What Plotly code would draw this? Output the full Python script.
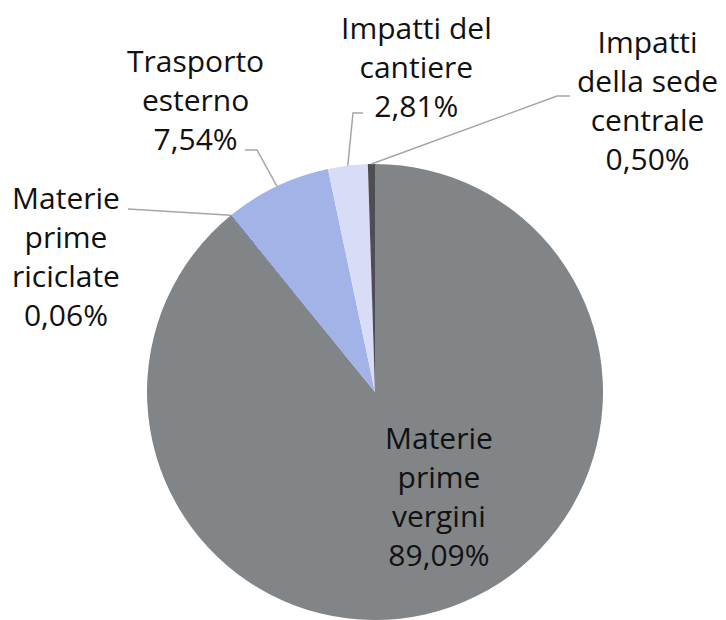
import math
import plotly.graph_objects as go

# ---- data ----
categories = ["Materie prime vergini", "Materie prime riciclate", "Trasporto esterno",
              "Impatti del cantiere", "Impatti della sede centrale"]
values = [89.09, 0.06, 7.54, 2.81, 0.50]
label_texts = ["Materie<br>prime<br>vergini<br>89,09%",
               "Materie<br>prime<br>riciclate<br>0,06%",
               "Trasporto<br>esterno<br>7,54%",
               "Impatti del<br>cantiere<br>2,81%",
               "Impatti<br>della sede<br>centrale<br>0,50%"]
colors = ["#828588", "#3f5aa0", "#a2b3e8", "#d9dcf6", "#4d4d52"]

# ---- layout constants (screen pixels; page body has an 8px margin) ----
OFF = 8
W, H = 726 - OFF, 620 - OFF
CX, CY, R = 375, 392, 228
FONT = "'Open Sans', sans-serif"
FS = 30
label_pos = [(439, 496), (66, 256), (195, 99), (416, 67), (647, 100)]
elbows = [None, [(128, 209)], [(257, 150), (245, 150)], [(353, 113), (363, 113)],
          [(557, 96), (570, 96)]]


def px2paper(x, y):
    return (x - OFF) / W, 1 - (y - OFF) / H


fig = go.Figure(go.Pie(
    labels=categories, values=values, sort=False, direction="clockwise", rotation=0,
    marker=dict(colors=colors, line=dict(width=0)),
    textinfo="none", hoverinfo="label+percent", showlegend=False,
    domain=dict(x=[px2paper(CX - R, 0)[0], px2paper(CX + R, 0)[0]],
                y=[max(0, px2paper(0, CY + R)[1]), px2paper(0, CY - R)[1]]),
))

total = sum(values)
cum = 0
shapes = []
annotations = []
for i, v in enumerate(values):
    mid = (cum + v / 2) / total * 2 * math.pi
    cum += v
    ex, ey = CX + R * math.sin(mid), CY - R * math.cos(mid)
    if elbows[i]:
        pts = [(ex, ey)] + elbows[i]
        path = "M " + " L ".join(f"{px2paper(x, y)[0]:.5f},{px2paper(x, y)[1]:.5f}" for x, y in pts)
        shapes.append(dict(type="path", xref="paper", yref="paper", path=path,
                           line=dict(color="#a6a6a6", width=1.5)))
    lx, ly = px2paper(*label_pos[i])
    annotations.append(dict(x=lx, y=ly, xref="paper", yref="paper", text=label_texts[i],
                            showarrow=False, xanchor="center", yanchor="middle", align="center",
                            borderpad=0,
                            font=dict(family=FONT, size=FS, color="#111111")))

fig.update_layout(
    width=W, height=H, margin=dict(l=0, r=0, t=0, b=0),
    paper_bgcolor="white", plot_bgcolor="white",
    shapes=shapes, annotations=annotations,
)
fig.write_html("out.html")
